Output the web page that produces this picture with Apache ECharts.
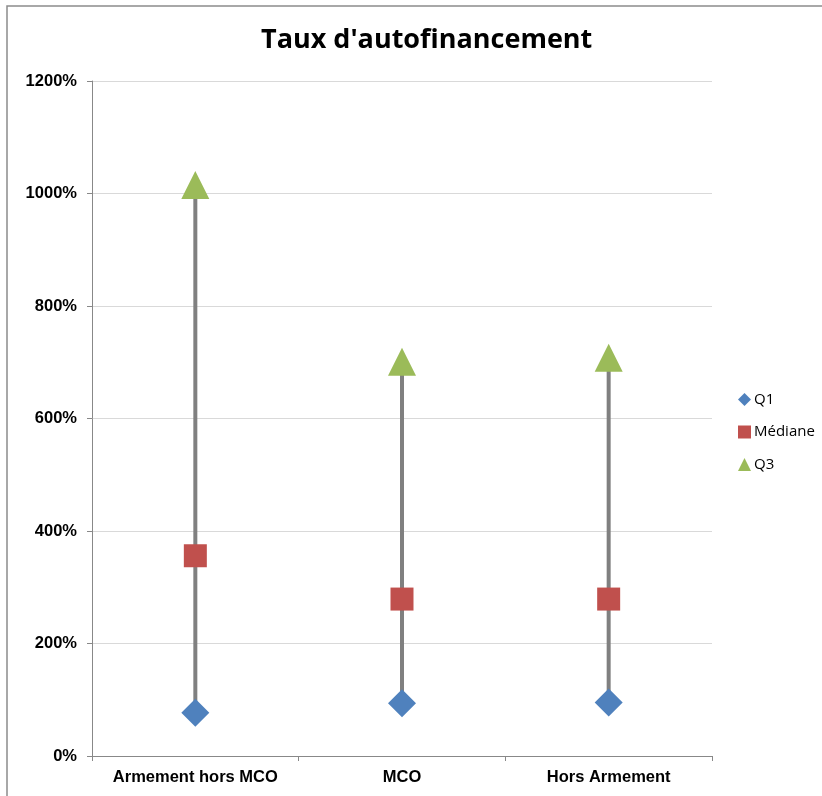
<!DOCTYPE html>
<html>
<head>
<meta charset="utf-8">
<script src="https://cdn.jsdelivr.net/npm/echarts@6/dist/echarts.min.js"></script>
<style>
  html, body { margin: 0; padding: 0; background: #fff; }
  #main { width: 822px; height: 796px; }
</style>
</head>
<body>
<div id="main"></div>
<script>
// données
const categories = ['Armement hors MCO', 'MCO', 'Hors Armement']
const q1 = [77, 94, 95]
const mediane = [356, 279, 279]
const q3 = [1015, 701, 708]
const yTicks = [0, 200, 400, 600, 800, 1000, 1200]

const myChart = echarts.init(document.getElementById('main'))

// ===================== option =====================
const option = {
  animation: false,
  backgroundColor: '#fff',
  title: {
    text: "Taux d'autofinancement",
    left: 256,
    top: 22,
    textStyle: {
      fontFamily: 'Open Sans',
      fontWeight: 'bold',
      fontSize: 27,
      color: '#000',
    },
  },
  graphic: [
    // cadre (haut et gauche seulement)
    {
      type: 'polyline',
      shape: { points: [[7, 796], [7, 6], [822, 6]] },
      style: { fill: 'none', stroke: '#8c8c8c', lineWidth: 1.5 },
      silent: true,
    },
  ],
  legend: {
    orient: 'vertical',
    left: 733,
    top: 387,
    itemWidth: 13,
    itemHeight: 13,
    itemGap: 17.5,
    data: ['Q1', 'Médiane', 'Q3'],
    textStyle: {
      fontFamily: 'Open Sans',
      fontSize: 15,
      color: '#000',
      padding: [0, 0, 0, -2],
    },
  },
  grid: {
    left: 92,
    right: 110,
    top: 81,
    bottom: 40,
  },
  xAxis: {
    type: 'category',
    data: categories,
    axisLine: { lineStyle: { color: '#888', width: 1 } },
    axisTick: { show: true, interval: 0, length: 5, lineStyle: { color: '#888' } },
    axisLabel: {
      interval: 0,
      hideOverlap: false,
      margin: 13,
      fontFamily: 'Liberation Sans',
      fontWeight: 'bold',
      fontSize: 16.5,
      color: '#000',
    },
    splitLine: { show: false },
  },
  yAxis: {
    type: 'value',
    min: yTicks[0],
    max: yTicks[yTicks.length - 1],
    interval: 200,
    axisLine: { show: true, lineStyle: { color: '#888', width: 1 } },
    axisTick: { show: true, length: 5, lineStyle: { color: '#888' } },
    axisLabel: {
      margin: 15,
      fontFamily: 'Liberation Sans',
      fontWeight: 'bold',
      fontSize: 16.5,
      color: '#000',
      formatter: (v) => v + '%',
    },
    splitLine: { show: true, lineStyle: { color: '#d9d9d9', width: 1 } },
  },
  series: [
    {
      // lignes haut-bas entre Q1 et Q3
      type: 'custom',
      name: 'hilo',
      z: 1,
      silent: true,
      data: categories.map((c, i) => [i, q1[i], q3[i]]),
      encode: { x: 0, y: [1, 2] },
      renderItem: (params, api) => {
        const lo = api.coord([api.value(0), api.value(1)])
        const hi = api.coord([api.value(0), api.value(2)])
        return {
          type: 'line',
          shape: { x1: lo[0], y1: lo[1], x2: hi[0], y2: hi[1] },
          style: { stroke: '#808080', lineWidth: 4 },
        }
      },
    },
    {
      name: 'Q1',
      type: 'scatter',
      z: 3,
      data: q1,
      symbol: 'diamond',
      symbolSize: [28, 28],
      itemStyle: { color: '#4f81bd', opacity: 1 },
    },
    {
      name: 'Médiane',
      type: 'scatter',
      z: 3,
      data: mediane,
      symbol: 'rect',
      symbolSize: [23, 23],
      itemStyle: { color: '#c0504d', opacity: 1 },
    },
    {
      name: 'Q3',
      type: 'scatter',
      z: 3,
      data: q3,
      symbol: 'triangle',
      symbolSize: [28, 28],
      itemStyle: { color: '#9bbb59', opacity: 1 },
    },
  ],
}
myChart.setOption(option)
</script>
</body>
</html>
